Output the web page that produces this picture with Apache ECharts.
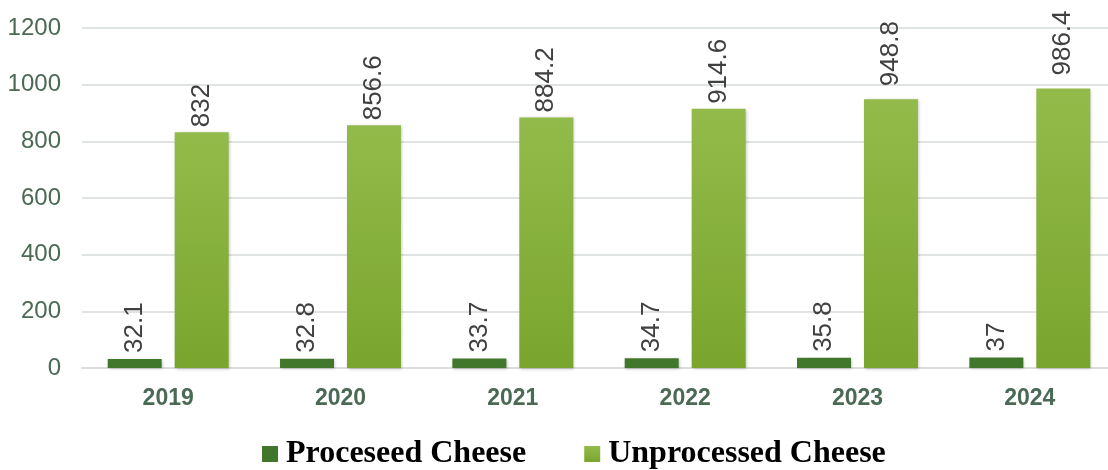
<!DOCTYPE html>
<html lang="en">
<head>
    <meta charset="utf-8">
    <title>Cheese</title>
    <script src="https://cdn.jsdelivr.net/npm/echarts@6/dist/echarts.min.js"></script>
</head>
<body style="margin:0;overflow:hidden">
<!-- plot runs a little past the right edge, like the original -->
<div id="main" style="width:1116px;height:470px;"></div>
<script type="text/javascript">
var years = ['2019', '2020', '2021', '2022', '2023', '2024'];
var processed = [32.1, 32.8, 33.7, 34.7, 35.8, 37];
var unprocessed = [832, 856.6, 884.2, 914.6, 948.8, 986.4];
var names = ['Proceseed Cheese', 'Unprocessed Cheese'];

var myChart = echarts.init(document.getElementById('main'));

// shared label style for the rotated values
var valLabel = {
    show: true,
    position: 'top',
    rotate: 90,
    align: 'left',
    verticalAlign: 'middle',
    distance: 6,
    color: '#404040',
    fontSize: 26,
    fontFamily: 'Liberation Sans'
};

var option = {
    animation: false,
    grid: {left: 82, right: 0, top: 28, bottom: 102},
    legend: {
        bottom: -5,
        left: 257,
        itemWidth: 16,
        itemHeight: 16,
        itemGap: 58,
        icon: 'rect',
        textStyle: {fontFamily: 'Liberation Serif', fontWeight: 'bold', fontSize: 32, color: '#000', padding: [0, 0, 0, 3]},
        data: names
    },
    xAxis: {
        type: 'category',
        data: years,
        axisTick: {show: false},
        axisLine: {lineStyle: {color: '#d9dedb', width: 2}},
        axisLabel: {margin: 19, color: '#4a6a55', fontWeight: 'bold', fontSize: 23, fontFamily: 'Liberation Sans'}
    },
    yAxis: {
        type: 'value',
        min: 0, max: 1200, interval: 200,
        axisLabel: {
            margin: 21, color: '#4a6a55', fontSize: 24, fontFamily: 'Liberation Sans',
            formatter: function (v) { return String(v); }
        },
        splitLine: {lineStyle: {color: '#dfe4e1', width: 2}}
    },
    series: [{
        name: names[0],
        type: 'bar',
        data: processed,
        barWidth: 54,
        barGap: '24%',
        itemStyle: {color: '#41772b', shadowColor: 'rgba(0,0,0,0.25)', shadowBlur: 3, shadowOffsetX: 1, shadowOffsetY: 1},
        label: valLabel
    }, {
        name: names[1],
        type: 'bar',
        // last two labels sit higher in the original
        data: unprocessed.map(function (v, i) {
            return {value: v, label: {distance: i >= 4 ? 13 : 5}};
        }),
        barWidth: 54,
        itemStyle: {
            color: new echarts.graphic.LinearGradient(0, 0, 0, 1, [
                {offset: 0, color: '#93bb4b'},
                {offset: 1, color: '#79a52d'}
            ]),
            shadowColor: 'rgba(0,0,0,0.25)', shadowBlur: 3, shadowOffsetX: 1, shadowOffsetY: 1
        },
        label: valLabel
    }]
};
myChart.setOption(option);
</script>
</body>
</html>
